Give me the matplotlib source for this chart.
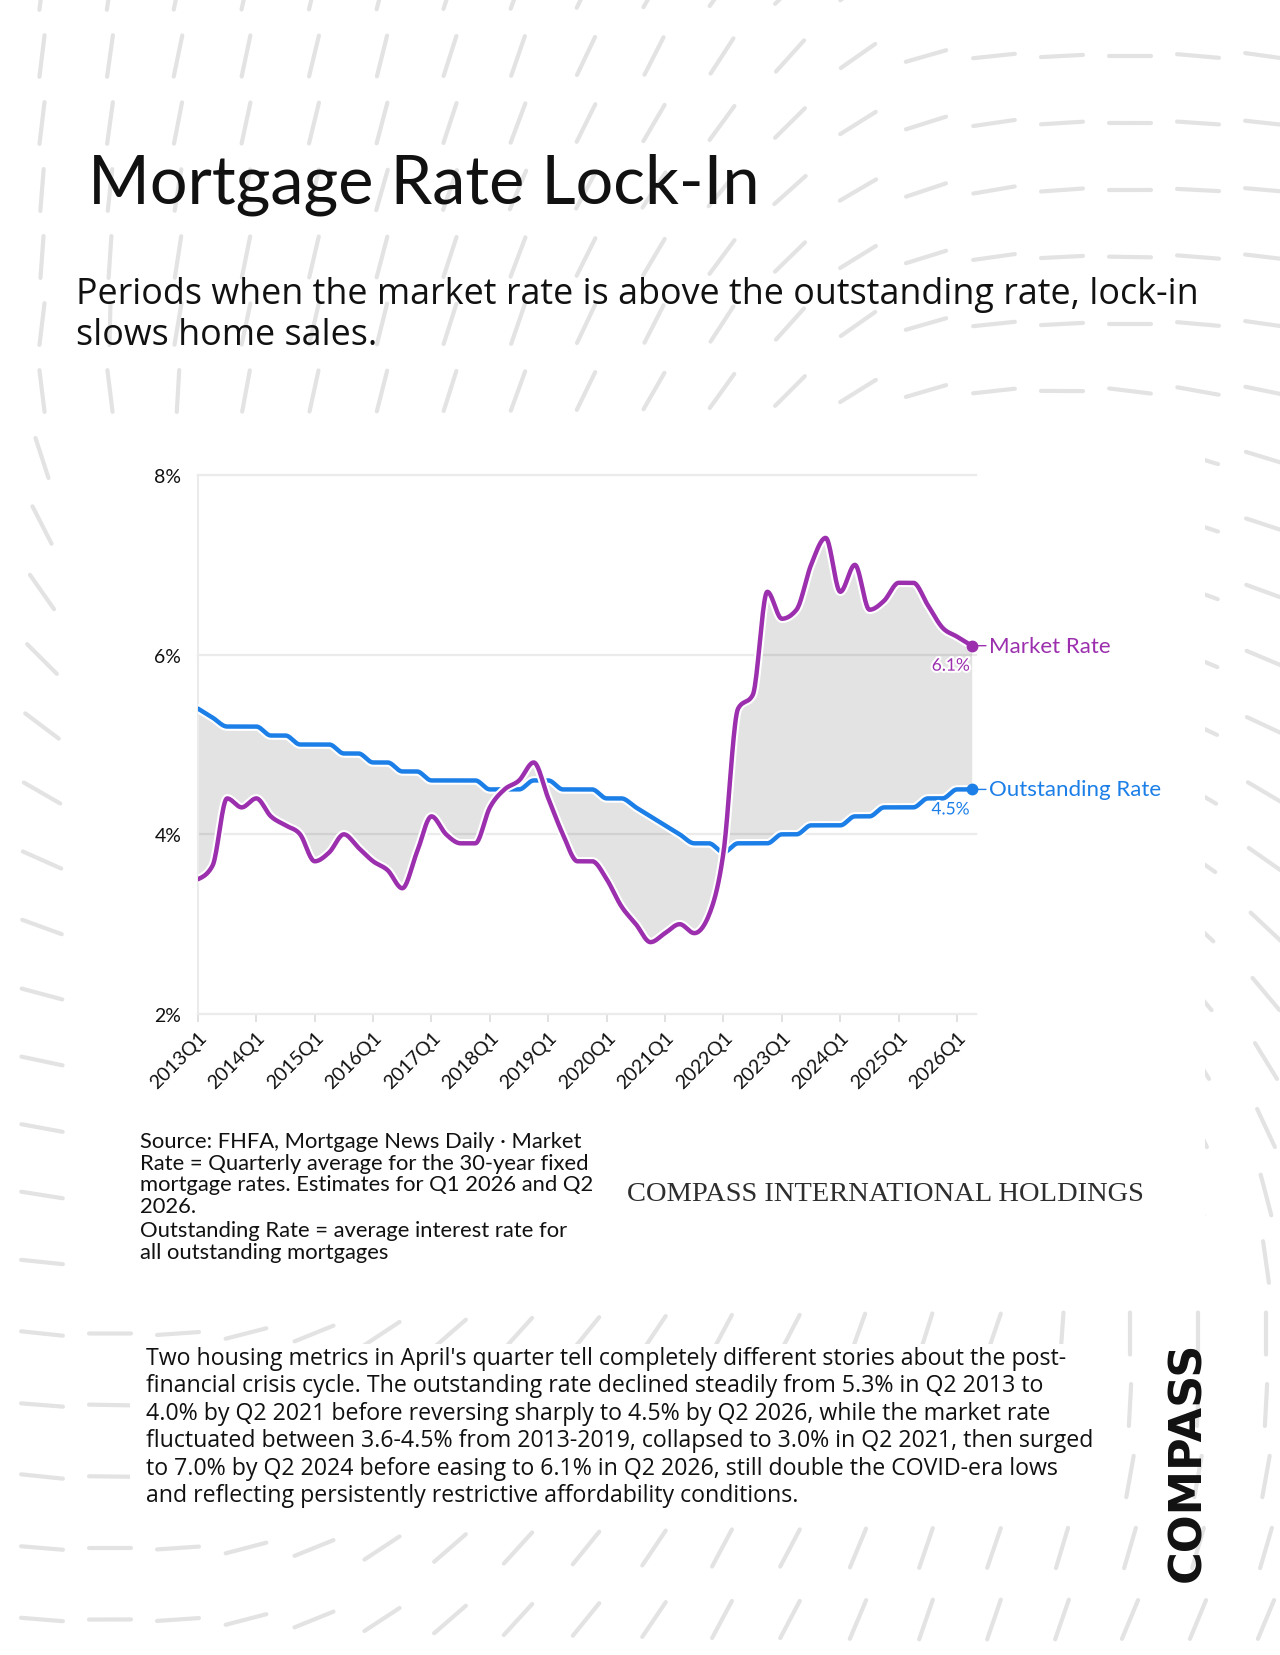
import numpy as np
import matplotlib
matplotlib.use('Agg')
import matplotlib.pyplot as plt
import matplotlib.patheffects as pe
from matplotlib.collections import LineCollection
from matplotlib.patches import Rectangle

# ---- data: quarterly rates, 2013Q1 .. 2026Q2 ----
quarters = [f'{y}Q{q}' for y in range(2013, 2027) for q in range(1, 5)][:54]

market_rate = [3.5, 3.65, 4.4, 4.3, 4.4, 4.2, 4.1, 4.0,      # 2013-2014
               3.7, 3.8, 4.0, 3.85, 3.7, 3.6, 3.4, 3.8,     # 2015-2016
               4.2, 4.0, 3.9, 3.9, 4.3, 4.5, 4.6, 4.8,      # 2017-2018
               4.4, 4.0, 3.7, 3.7, 3.5, 3.2, 3.0, 2.8,      # 2019-2020
               2.9, 3.0, 2.9, 3.1, 3.8, 5.4, 5.55, 6.7,     # 2021-2022
               6.4, 6.5, 7.0, 7.3, 6.7, 7.0, 6.5, 6.6,      # 2023-2024
               6.8, 6.8, 6.55, 6.3, 6.2, 6.1]               # 2025-2026

outstanding_rate = [5.4, 5.3, 5.2, 5.2, 5.2, 5.1, 5.1, 5.0,
                    5.0, 5.0, 4.9, 4.9, 4.8, 4.8, 4.7, 4.7,
                    4.6, 4.6, 4.6, 4.6, 4.5, 4.5, 4.5, 4.6,
                    4.6, 4.5, 4.5, 4.5, 4.4, 4.4, 4.3, 4.2,
                    4.1, 4.0, 3.9, 3.9, 3.8, 3.9, 3.9, 3.9,
                    4.0, 4.0, 4.1, 4.1, 4.1, 4.2, 4.2, 4.3,
                    4.3, 4.3, 4.4, 4.4, 4.5, 4.5]

y_ticks = [2, 4, 6, 8]
x_tick_labels = [q for q in quarters if q.endswith('Q1')]

title = 'Mortgage Rate Lock-In'
subtitle = ['Periods when the market rate is above the outstanding rate, lock-in',
            'slows home sales.']
source_lines = ['Source: FHFA, Mortgage News Daily \u00b7 Market',
                'Rate = Quarterly average for the 30-year fixed',
                'mortgage rates. Estimates for Q1 2026 and Q2',
                '2026.',
                'Outstanding Rate = average interest rate for',
                'all outstanding mortgages']
paragraph = ["Two housing metrics in April's quarter tell completely different stories about the post-",
             'financial crisis cycle. The outstanding rate declined steadily from 5.3% in Q2 2013 to',
             '4.0% by Q2 2021 before reversing sharply to 4.5% by Q2 2026, while the market rate',
             'fluctuated between 3.6-4.5% from 2013-2019, collapsed to 3.0% in Q2 2021, then surged',
             'to 7.0% by Q2 2024 before easing to 6.1% in Q2 2026, still double the COVID-era lows',
             'and reflecting persistently restrictive affordability conditions.']

# background dash directions (degrees)
top_x = [33, 237, 375, 510, 649, 714, 784, 853, 922, 988, 1057, 1122, 1192, 1261]
top_deg = [83, 78, 76, 71, 63, 57, 48, 35, 16, 6, 3, 0, -5, -8]
left_y = [392, 459, 525, 592, 659, 726, 793, 860, 927, 994, 1061, 1200, 1330, 1464]
left_deg = [97, 108, 117, 125, 135, 143, 150, 156, 160, 165, 168, 171, 173, 174]
bottom_x = [42, 110, 163, 310, 441, 571, 735, 980]
bottom_deg = [175, 180, 184, 202, 221, 231, 242, 251]
right_y = [459, 592, 726, 860, 994, 1128, 1263, 1330, 1397, 1464, 1531, 1598]
right_deg = [-17, -20, -25, -35, -50, -65, -82, 90, 87, 80, 74, 67]

purple = '#9b2fae'
blue = '#1c7fe8'


def monotone(y, n=20):
    # monotone cubic (like d3 curveMonotoneX) for drawing the smooth line
    y = np.asarray(y, float)
    d = np.diff(y)
    m = np.zeros_like(y)
    for i in range(1, len(y) - 1):
        if d[i - 1] * d[i] > 0:
            m[i] = np.sign(d[i]) * min(2 * abs(d[i - 1]), 2 * abs(d[i]), abs(d[i - 1] + d[i]) / 2)
    m[0] = (3 * d[0] - m[1]) / 2
    m[-1] = (3 * d[-1] - m[-2]) / 2
    xs, ys = [], []
    t = np.linspace(0, 1, n, endpoint=False)
    for i in range(len(y) - 1):
        h00 = 2 * t**3 - 3 * t**2 + 1
        h10 = t**3 - 2 * t**2 + t
        h01 = -2 * t**3 + 3 * t**2
        h11 = t**3 - t**2
        xs.append(i + t)
        ys.append(h00 * y[i] + h10 * m[i] + h01 * y[i + 1] + h11 * m[i + 1])
    xs.append([len(y) - 1])
    ys.append([y[-1]])
    return np.concatenate(xs), np.concatenate(ys)


fig = plt.figure(figsize=(12.8, 16.56), dpi=100)
fig.patch.set_facecolor('white')

# page layer in pixel coordinates
bg = fig.add_axes([0, 0, 1, 1])
bg.set_xlim(0, 1280)
bg.set_ylim(1656, 0)
bg.axis('off')
bg.set_zorder(0)

# anchors for dash directions
ax_pts, ay_pts, adeg = [], [], []
for yy in (57, 330):
    ax_pts += top_x; ay_pts += [yy] * len(top_x); adeg += top_deg
ax_pts += [42] * len(left_y); ay_pts += left_y; adeg += left_deg
for yy in (1330, 1531, 1598):
    ax_pts += bottom_x; ay_pts += [yy] * len(bottom_x); adeg += bottom_deg
for xx in (1133, 1200, 1265):
    ax_pts += [xx] * len(right_y); ay_pts += right_y; adeg += right_deg
ax_pts = np.array(ax_pts, float)
ay_pts = np.array(ay_pts, float)
a2 = np.radians(np.array(adeg, float)) * 2

rows = [-10 + 67 * k + 4.5 * max(0, k - 19) for k in range(26)]
segs = []
for cy in rows:
    for cx in np.arange(42, 1300, 68):
        dist = np.hypot(ax_pts - cx, ay_pts - cy) + 1.0
        w = 1 / dist**3
        ang = np.arctan2((w * np.sin(a2)).sum(), (w * np.cos(a2)).sum()) / 2
        dx, dy = 21 * np.cos(ang), -21 * np.sin(ang)
        segs.append([(cx - dx, cy - dy), (cx + dx, cy + dy)])
bg.add_collection(LineCollection(segs, colors='#e3e3e3', linewidths=3.0,
                                 capstyle='round', zorder=1))

# white panels behind chart and paragraph
bg.add_patch(Rectangle((65, 415), 1140, 875, facecolor='white', edgecolor='none', zorder=2))
bg.add_patch(Rectangle((130, 1345), 982, 170, facecolor='white', edgecolor='none', zorder=2))

bg.text(88, 204, title, fontsize=48, family='Lato', fontweight='normal',
        color='#111111', va='baseline', ha='left', zorder=3)
for i, line in enumerate(subtitle):
    bg.text(76, 304 + 41 * i, line, fontsize=25.8, family='Open Sans', color='#111111',
            va='baseline', ha='left', zorder=3)

for i, line in enumerate(source_lines):
    extra = 3 if i >= 4 else 0
    bg.text(140, 1142 + 21.6 * i + extra, line, fontsize=15.8, family='Lato',
            color='#111111', va='center', ha='left', zorder=3)

bg.text(885, 1195, 'COMPASS INTERNATIONAL HOLDINGS', fontsize=20.5,
        family='Liberation Serif', color='#2e2e2e', va='center', ha='center', zorder=3)

for i, line in enumerate(paragraph):
    bg.text(146, 1359 + 27.4 * i, line, fontsize=16.7, family='Open Sans', color='#111111',
            va='center', ha='left', zorder=3)

bg.text(1188, 1462, 'COMPASS', fontsize=32, family='DejaVu Sans', fontweight='bold',
        rotation=90, color='#111111', va='center', ha='center', zorder=3)

# ---- chart ----
ax = fig.add_axes([197.9 / 1280, 1 - 1015 / 1656, (976 - 197.9) / 1280, (1015 - 476) / 1656])
ax.set_zorder(1)
ax.patch.set_alpha(0)

x = np.arange(len(quarters))
mx, my = monotone(market_rate)
ox, oy = monotone(outstanding_rate)

ax.fill_between(mx, my, oy, color='black', alpha=0.11, linewidth=0, zorder=2)

halo = [pe.Stroke(linewidth=6.2, foreground='white'), pe.Normal()]
ax.plot(ox, oy, color=blue, lw=3.2, zorder=4, solid_capstyle='round', path_effects=halo)
ax.plot(mx, my, color=purple, lw=3.2, zorder=5, solid_capstyle='round', path_effects=halo)

ax.set_xlim(0, (976 - 197.9) / 14.6)
ax.set_ylim(2, 8)
ax.set_yticks(y_ticks)
ax.set_yticklabels([f'{v}%' for v in y_ticks], fontsize=14, family='Lato', color='#111111')
ax.set_xticks(x[::4])
ax.set_xticklabels(x_tick_labels, rotation=45, ha='right', rotation_mode='anchor',
                   fontsize=14, family='Lato', color='#111111')
ax.tick_params(axis='y', length=0, pad=12)
ax.tick_params(axis='x', length=6, width=1.3, color='#dedede', pad=4)
ax.yaxis.grid(True, color='#ebebeb', lw=1.6, zorder=1)
for gl in ax.get_ygridlines():
    gl.set_clip_on(False)
ax.set_axisbelow(True)
for s in ['top', 'right', 'bottom']:
    ax.spines[s].set_visible(False)
ax.spines['left'].set_color('#ebebeb')
ax.spines['left'].set_linewidth(1.5)

# end markers and labels
for series, col, name in [(market_rate, purple, 'Market Rate'),
                          (outstanding_rate, blue, 'Outstanding Rate')]:
    xe, ye = x[-1], series[-1]
    ax.plot(xe, ye, 'o', color=col, ms=7.5, zorder=6, clip_on=False)
    ax.annotate(name, xy=(xe, ye), xytext=(17, 0), textcoords='offset pixels',
                fontsize=16, family='Lato', color=col, va='center', ha='left',
                annotation_clip=False,
                arrowprops=dict(arrowstyle='-', color=col, lw=1.0, shrinkA=0, shrinkB=1))
    ax.annotate(f'{ye:.1f}%', xy=(xe, ye), xytext=(-2, -20), textcoords='offset pixels',
                fontsize=12.5, family='Lato', color=col, va='center', ha='right',
                annotation_clip=False, zorder=7,
                path_effects=[pe.withStroke(linewidth=3, foreground='white')])

fig.savefig('out.png', dpi=100)
